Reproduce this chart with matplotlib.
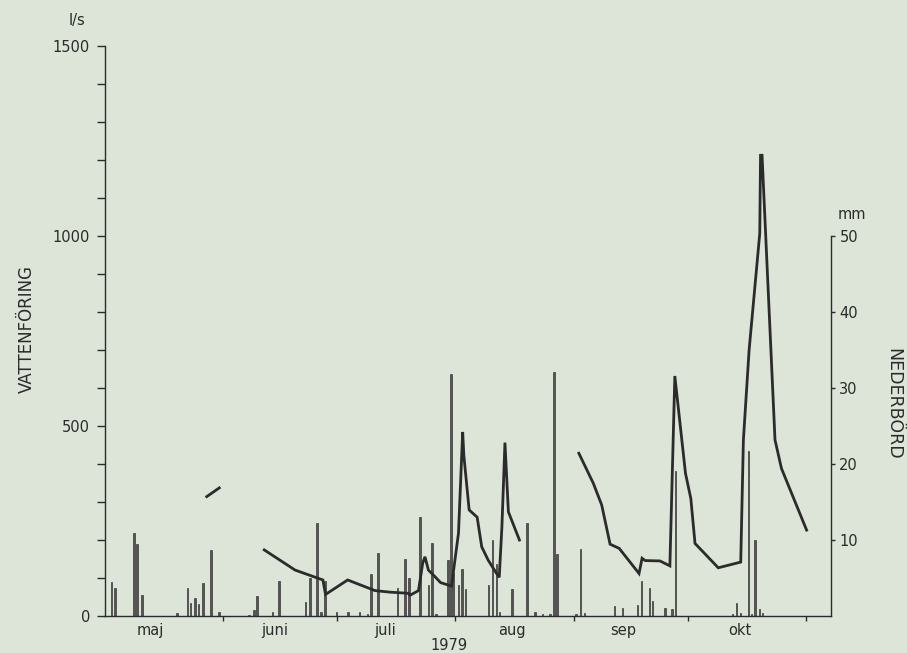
import matplotlib
matplotlib.use("Agg")
import matplotlib.pyplot as plt
from matplotlib.ticker import MultipleLocator, FixedLocator, NullFormatter

# x positions are days counted from 1 May 1979 (1 June = 31, 1 July = 61 ...)
month_starts = [31, 61, 92, 123, 153, 184]
month_names = ["maj", "juni", "juli", "aug", "sep", "okt"]
month_label_pos = [12, 44.6, 73.5, 106.9, 136, 166.7]

# daily precipitation, mm
rain_day = [1.7, 2.6, 7.6, 8.4, 9.7, 18.9, 21.6, 22.5, 23.6, 24.6, 25.7, 27.8,
            29.9, 37.8, 39.1, 39.9, 44.0, 45.7, 52.7, 53.8, 55.7, 56.7, 57.8,
            60.8, 63.8, 66.8, 68.9, 69.8, 71.7, 76.8, 78.7, 79.8, 82.7, 84.9,
            85.8, 86.9, 90.0, 90.8, 91.5, 92.8, 93.7, 94.6, 100.7, 101.8,
            102.8, 103.6, 106.8, 110.8, 112.9, 114.9, 116.8, 117.9, 118.7,
            123.6, 124.9, 125.9, 133.7, 135.8, 139.8, 140.8, 142.9, 143.8,
            147.0, 148.8, 149.8, 164.7, 165.8, 166.9, 168.9, 169.8, 170.7,
            171.8, 172.6]
rain_mm = [4.5, 3.8, 11.0, 9.5, 2.8, 0.5, 3.8, 1.8, 2.4, 1.7, 4.4, 8.7,
           0.6, 0.2, 0.8, 2.7, 0.6, 4.6, 1.9, 5.1, 12.3, 0.6, 4.6,
           0.6, 0.6, 0.6, 0.3, 5.6, 8.3, 3.7, 7.5, 5.1, 13.1, 4.2,
           9.7, 0.3, 7.4, 31.9, 5.7, 4.2, 6.2, 3.6, 4.1, 10.0,
           6.9, 0.6, 3.6, 12.3, 0.6, 0.3, 0.3, 32.1, 8.2,
           0.3, 8.9, 0.4, 1.4, 1.1, 1.5, 4.6, 3.8, 2.1,
           1.1, 1.0, 19.1, 0.3, 1.8, 0.4, 21.7, 0.3, 10.0,
           1.0, 0.4]

# runoff, l/s (three measured periods)
flow_may_day = [26.7, 30.0]
flow_may_ls = [315, 338]

flow_summer_day = [41.8, 49.9, 57.2, 57.9, 63.7, 70.9, 74.8, 79.6, 80.1, 82.3,
                   83.4, 84.0, 84.9, 86.6, 88.1, 91.0, 91.4, 92.8, 93.9, 94.2,
                   95.6, 97.7, 98.9, 100.6, 102.8, 103.5, 104.2, 105.0, 105.9,
                   108.8]
flow_summer_ls = [175, 122, 96, 58, 96, 68, 64, 61, 56, 68,
                  140, 157, 122, 105, 89, 80, 113, 219, 485, 424,
                  280, 261, 183, 148, 113, 103, 236, 457, 275,
                  201]

flow_autumn_day = [124.4, 128.2, 130.4, 132.6, 135.0, 140.2, 141.0, 141.8,
                   145.7, 148.3, 149.6, 152.4, 153.8, 154.9, 161.0, 166.9,
                   167.6, 169.1, 171.9, 172.1, 172.5, 175.9, 177.6, 184.2]
flow_autumn_ls = [429, 350, 293, 190, 179, 113, 153, 147,
                  146, 133, 632, 376, 310, 192, 128, 143,
                  464, 700, 1007, 1212, 1212, 464, 389, 227]

bg = "#dde4d8"
ink = "#2b2b2b"

fig = plt.figure(figsize=(9.07, 6.53), dpi=100, facecolor=bg)
ax = fig.add_axes([0.1158, 0.0559, 0.8004, 0.8741])
ax2 = ax.twinx()
ax.set_zorder(ax2.get_zorder() + 1)
ax.patch.set_visible(False)
ax2.patch.set_visible(False)

# precipitation bars on the right scale
ax2.bar(rain_day, rain_mm, width=0.38, color="#555555", edgecolor="#3a3a3a",
        linewidth=0.5)

# runoff line on the left scale
for d, v in [(flow_may_day, flow_may_ls), (flow_summer_day, flow_summer_ls),
             (flow_autumn_day, flow_autumn_ls)]:
    ax.plot(d, v, color=ink, lw=2.0, solid_joinstyle="miter")

ax.set_xlim(0, 190.6)
ax.set_ylim(0, 1500)
ax2.set_ylim(0, 75)

for s in ["top", "right"]:
    ax.spines[s].set_visible(False)
for s in ["top", "left", "bottom"]:
    ax2.spines[s].set_visible(False)
ax.spines["left"].set_bounds(0, 1500)
ax2.spines["right"].set_bounds(0, 50)
for sp in [ax.spines["left"], ax.spines["bottom"], ax2.spines["right"]]:
    sp.set_color(ink)
    sp.set_linewidth(1.0)

font = "DejaVu Sans"

# left axis
ax.yaxis.set_major_locator(FixedLocator([0, 500, 1000, 1500]))
ax.yaxis.set_minor_locator(MultipleLocator(100))
ax.tick_params(axis="y", which="both", direction="out", length=5.8,
               width=1.0, color=ink, labelsize=10.5, labelcolor=ink, pad=5)

# right axis
ax2.yaxis.set_major_locator(FixedLocator([10, 20, 30, 40, 50]))
ax2.tick_params(axis="y", direction="out", length=3, width=1.0, color=ink,
                labelsize=10.5, labelcolor=ink, pad=3)

# months
ax.xaxis.set_major_locator(FixedLocator(month_starts))
ax.xaxis.set_major_formatter(NullFormatter())
ax.xaxis.set_minor_locator(FixedLocator(month_label_pos))
ax.set_xticklabels(month_names, minor=True)
ax.tick_params(axis="x", which="major", direction="out", length=3.5,
               width=1.0, color=ink)
ax.tick_params(axis="x", which="minor", length=0, pad=5, labelsize=10.5,
               labelcolor=ink)

for lab in ax.get_xticklabels(minor=True) + ax.get_yticklabels() + ax2.get_yticklabels():
    lab.set_family(font)

fig.text(77 / 907, 1 - 21 / 653, "l/s", ha="center", va="center",
         fontsize=10.5, color=ink, family=font)
fig.text(852 / 907, 1 - 214 / 653, "mm", ha="center", va="center",
         fontsize=10.5, color=ink, family=font)
fig.text(27 / 907, 1 - 329 / 653, "VATTENFÖRING", rotation=90, ha="center",
         va="center", fontsize=12, color=ink, family=font)
fig.text(893 / 907, 1 - 404 / 653, "NEDERBÖRD", rotation=-90, ha="center",
         va="center", fontsize=12.5, color=ink, family=font)
fig.text(449 / 907, 1 - 645 / 653, "1979", ha="center", va="center",
         fontsize=10.5, color=ink, family=font)

fig.savefig("out.png", dpi=100, facecolor=bg)
